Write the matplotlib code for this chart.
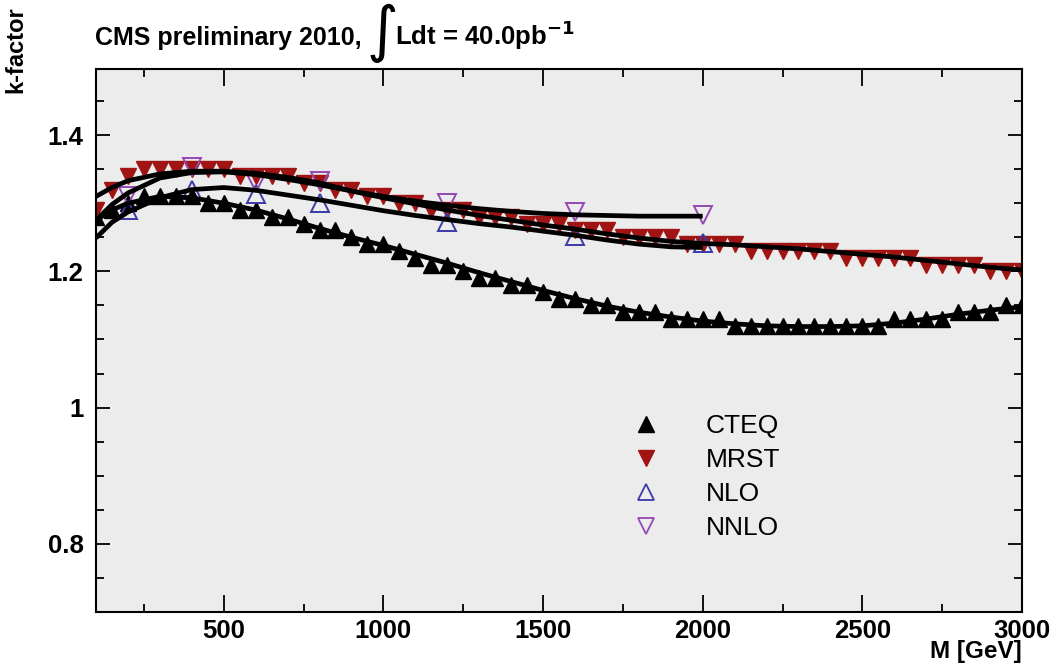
#!/usr/bin/env python3
"""
k-factor vs. dilepton mass, CMS preliminary 2010 style plot.
"""

import matplotlib
matplotlib.use("Agg")
import matplotlib.pyplot as plt
from matplotlib.lines import Line2D
from matplotlib.ticker import MultipleLocator, FuncFormatter

plt.rcParams['font.family'] = ['Liberation Sans', 'DejaVu Sans']

# Marker series, one point every 50 GeV
mass = list(range(100, 3001, 50))
cteq = [1.28, 1.29, 1.30, 1.31, 1.31, 1.31, 1.31, 1.30, 1.30, 1.29,
        1.29, 1.28, 1.28, 1.27, 1.26, 1.26, 1.25, 1.24, 1.24, 1.23,
        1.22, 1.21, 1.21, 1.20, 1.19, 1.19, 1.18, 1.18, 1.17, 1.16,
        1.16, 1.15, 1.15, 1.14, 1.14, 1.14, 1.13, 1.13, 1.13, 1.13,
        1.12, 1.12, 1.12, 1.12, 1.12, 1.12, 1.12, 1.12, 1.12, 1.12,
        1.13, 1.13, 1.13, 1.13, 1.14, 1.14, 1.14, 1.15, 1.15]
mrst = [1.29, 1.32, 1.34, 1.35, 1.35, 1.35, 1.35, 1.35, 1.35, 1.34,
        1.34, 1.34, 1.34, 1.33, 1.33, 1.32, 1.32, 1.31, 1.31, 1.30,
        1.30, 1.29, 1.29, 1.29, 1.28, 1.28, 1.28, 1.27, 1.27, 1.27,
        1.26, 1.26, 1.26, 1.25, 1.25, 1.25, 1.25, 1.24, 1.24, 1.24,
        1.24, 1.23, 1.23, 1.23, 1.23, 1.23, 1.23, 1.22, 1.22, 1.22,
        1.22, 1.22, 1.21, 1.21, 1.21, 1.21, 1.20, 1.20, 1.20]

# Theory points
theory_mass = [200, 400, 600, 800, 1200, 1600, 2000]
nlo = [1.29, 1.32, 1.313, 1.30, 1.272, 1.252, 1.242]
nnlo = [1.31, 1.353, 1.33, 1.332, 1.30, 1.287, 1.283]

# Fit curves
fit_mass = [100, 150, 200, 300, 400, 500, 600, 700, 800, 900, 1000,
            1100, 1200, 1300, 1400, 1500, 1600, 1700, 1800, 1900, 2000]
fit_mass_long = fit_mass + [2100, 2200, 2300, 2400, 2500, 2600, 2700,
                            2800, 2900, 3000]
fit_cteq = [1.275, 1.29, 1.30, 1.31, 1.308, 1.30, 1.29, 1.277, 1.263, 1.25,
            1.238, 1.225, 1.212, 1.198, 1.185, 1.172, 1.16, 1.149, 1.14,
            1.133, 1.127, 1.123, 1.12, 1.119, 1.119, 1.12, 1.124, 1.13,
            1.137, 1.143, 1.148]
fit_mrst = [1.31, 1.323, 1.333, 1.343, 1.347, 1.347, 1.344, 1.338, 1.33,
            1.318, 1.308, 1.299, 1.29, 1.282, 1.275, 1.268, 1.262, 1.255,
            1.249, 1.244, 1.241, 1.239, 1.236, 1.233, 1.229, 1.225, 1.221,
            1.216, 1.211, 1.206, 1.202]
fit_nlo = [1.249, 1.272, 1.287, 1.308, 1.32, 1.323, 1.319, 1.312, 1.305,
           1.297, 1.289, 1.282, 1.276, 1.27, 1.265, 1.259, 1.253, 1.246,
           1.24, 1.236, 1.235]
fit_nnlo = [1.275, 1.298, 1.315, 1.337, 1.345, 1.346, 1.342, 1.335, 1.327,
            1.318, 1.31, 1.303, 1.297, 1.292, 1.288, 1.285, 1.283, 1.282,
            1.281, 1.281, 1.281]

RED = '#a01414'
BLUE = '#3a3aa8'
PURPLE = '#9448b4'

fig = plt.figure(figsize=(10.54, 6.68), dpi=100)
ax = fig.add_axes([96 / 1054, 56 / 668, 926 / 1054, 543 / 668])
ax.set_facecolor('#ececec')

ax.plot(mass, cteq, linestyle='none', marker='^', ms=11.5, color='black', zorder=2)
ax.plot(mass, mrst, linestyle='none', marker='v', ms=11.5, color=RED, zorder=2)
ax.plot(theory_mass, nlo, linestyle='none', marker='^', ms=13, mfc='none',
        mec=BLUE, mew=1.4, zorder=2)
ax.plot(theory_mass, nnlo, linestyle='none', marker='v', ms=13, mfc='none',
        mec=PURPLE, mew=1.4, zorder=2)

for xs, ys in [(fit_mass_long, fit_cteq), (fit_mass_long, fit_mrst),
               (fit_mass, fit_nlo), (fit_mass, fit_nnlo)]:
    ax.plot(xs, ys, color='black', lw=3.4, solid_capstyle='butt',
            solid_joinstyle='round', zorder=3)

ax.set_xlim(100, 3000)
ax.set_ylim(0.7, 1.497)
ax.xaxis.set_major_locator(MultipleLocator(500))
ax.xaxis.set_minor_locator(MultipleLocator(250))
ax.yaxis.set_major_locator(MultipleLocator(0.2))
ax.yaxis.set_minor_locator(MultipleLocator(0.05))
ax.yaxis.set_major_formatter(FuncFormatter(lambda v, p: f"{v:g}"))

ax.tick_params(which='both', direction='in', top=True, right=True, width=1.3)
ax.tick_params(axis='x', which='major', length=12, pad=5)
ax.tick_params(axis='x', which='minor', length=6)
ax.tick_params(axis='y', which='major', length=10, pad=9)
ax.tick_params(axis='y', which='minor', length=6)
# the first x tick (100) has no label
ax.set_xticks([500, 1000, 1500, 2000, 2500, 3000])
for lab in ax.get_xticklabels() + ax.get_yticklabels():
    lab.set_fontsize(18.5)
    lab.set_fontweight('bold')
for sp in ax.spines.values():
    sp.set_linewidth(1.5)

handles = [
    Line2D([], [], linestyle='none', marker='^', ms=11, color='black'),
    Line2D([], [], linestyle='none', marker='v', ms=11, color=RED),
    Line2D([], [], linestyle='none', marker='^', ms=12, mfc='none', mec=BLUE, mew=1.3),
    Line2D([], [], linestyle='none', marker='v', ms=12, mfc='none', mec=PURPLE, mew=1.3),
]
ax.legend(handles, ['CTEQ', 'MRST', 'NLO', 'NNLO'], loc='upper left',
          bbox_to_anchor=(0.580, 0.365), frameon=False, fontsize=19,
          handlelength=1.0, handletextpad=1.75, labelspacing=0.38,
          borderpad=0, borderaxespad=0)

fig.text(16 / 1054, 1 - 6 / 668, 'k-factor', rotation=90, ha='center',
         va='top', fontsize=17, fontweight='bold')
fig.text(1022 / 1054, 5 / 668, 'M [GeV]', ha='right',
         va='bottom', fontsize=17.5, fontweight='bold')

fig.text(95 / 1054, 1 - 45 / 668, 'CMS preliminary 2010,', ha='left',
         va='baseline', fontsize=18, fontweight='bold')
fig.text(367 / 1054, 1 - 50 / 668, '\u222b', ha='left', va='baseline',
         fontsize=44, family=['DejaVu Sans'])
fig.text(395 / 1054, 1 - 45 / 668, 'Ldt = 40.0pb$^{\\mathbf{-1}}$', ha='left',
         va='baseline', fontsize=18.5, fontweight='bold')

fig.savefig('out.png', dpi=100)
